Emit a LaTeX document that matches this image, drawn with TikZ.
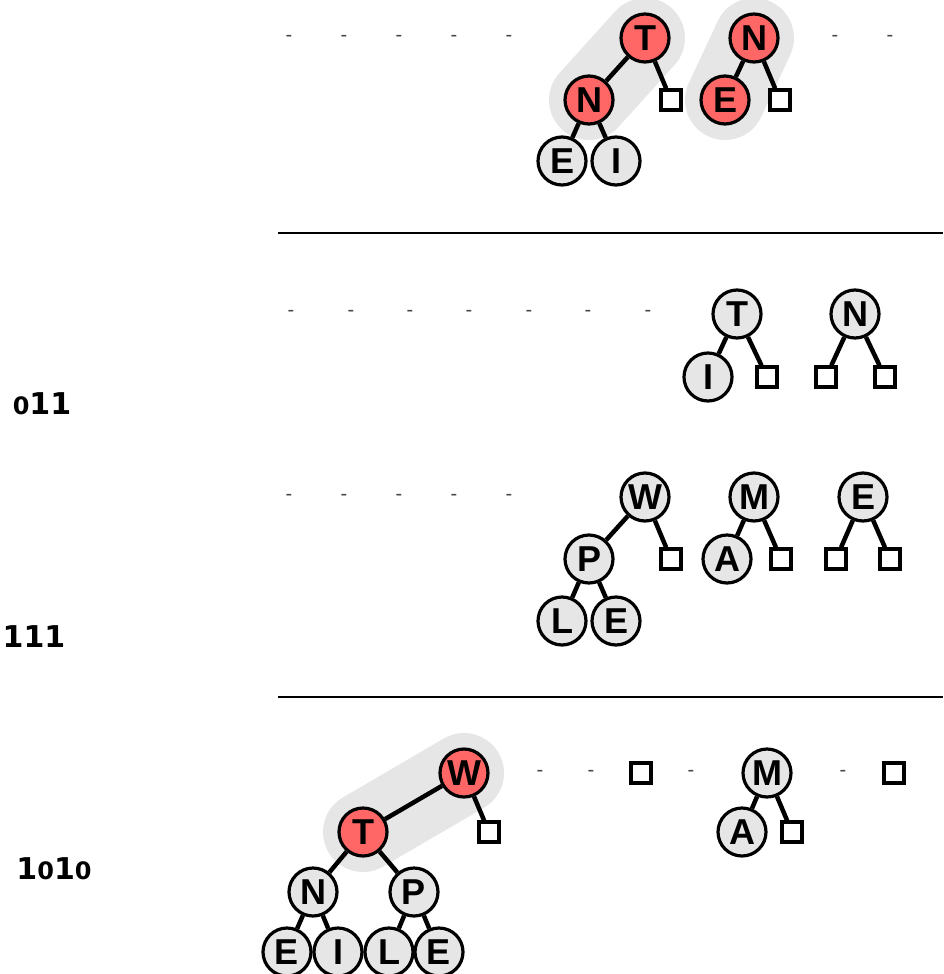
\documentclass[tikz,border=0pt]{standalone}
\usepackage{fontspec}
\setmainfont{Liberation Sans}
\newfontfamily\handfont{DejaVu Sans}
\usetikzlibrary{backgrounds}
\definecolor{redfill}{HTML}{FF6666}
\definecolor{grayfill}{HTML}{E6E6E6}
\definecolor{bandgray}{HTML}{E6E6E6}
\definecolor{dashgray}{HTML}{444444}
\newcommand{\zr}{{\fontsize{24}{24}\selectfont 0}}
\tikzset{
  x=1pt,y=-1pt,
  tn/.style={circle,draw=black,line width=3.2pt,fill=grayfill,minimum size=48pt,inner sep=0pt,
    font=\fontsize{36}{36}\selectfont\bfseries},
  rn/.style={tn,fill=redfill},
  sq/.style={rectangle,draw=black,line width=3.2pt,fill=white,minimum size=20pt,inner sep=0pt},
  dsh/.style={text=dashgray,font=\fontsize{20}{20}\selectfont,inner sep=0pt},
  ed/.style={line width=4.5pt},
  band/.style={line width=80pt,line cap=round,draw=bandgray},
  sep/.style={line width=2pt},
  lbl/.style={font=\handfont\fontsize{30}{30}\selectfont\bfseries,inner sep=0pt}
}
\begin{document}
\begin{tikzpicture}
\useasboundingbox (0,0) rectangle (943,974);
% ---------- section 1 ----------
\foreach \xx [count=\i] in {289,344,399,454,509,835,890}
  \node[dsh] (da\i) at (\xx,38) {-};
\node[rn] (aT) at (645,38) {T};
\node[rn] (aN) at (589,100) {N};
\node[tn] (aE) at (562,161) {E};
\node[tn] (aI) at (616,161) {I};
\node[sq] (aS1) at (671,100) {};
\node[rn] (bN) at (754,38) {N};
\node[rn] (bE) at (725,100) {E};
\node[sq] (bS1) at (780,100) {};
\begin{scope}[on background layer]
  \draw[band] (aT.center) -- (aN.center);
  \draw[band] (bN.center) -- (bE.center);
\end{scope}
\draw[ed] (aT) -- (aN);
\draw[ed] (aT) -- (aS1);
\draw[ed] (aN) -- (aE);
\draw[ed] (aN) -- (aI);
\draw[ed] (bN) -- (bE);
\draw[ed] (bN) -- (bS1);
\coordinate (l1a) at (278,233);
\coordinate (l1b) at (943,233);
\draw[sep] (l1a) -- (l1b);
% ---------- section 2 ----------
\foreach \xx [count=\i] in {291,351,410,469,529,588,648}
  \node[dsh] (db\i) at (\xx,313) {-};
\node[tn] (cT) at (737,314) {T};
\node[tn] (cI) at (708,377) {I};
\node[sq] (cS1) at (767,377) {};
\node[tn] (cN) at (855,314) {N};
\node[sq] (cS2) at (826,377) {};
\node[sq] (cS3) at (885,377) {};
\draw[ed] (cT) -- (cI);
\draw[ed] (cT) -- (cS1);
\draw[ed] (cN) -- (cS2);
\draw[ed] (cN) -- (cS3);
\node[lbl] (lab1) at (42,404) {\zr11};
% ---------- section 3 ----------
\foreach \xx [count=\i] in {289,344,399,454,509}
  \node[dsh] (dc\i) at (\xx,497) {-};
\node[tn] (dW) at (645,497) {W};
\node[tn] (dP) at (589,559) {P};
\node[tn] (dL) at (562,621) {L};
\node[tn] (dE) at (616,621) {E};
\node[sq] (dS1) at (671,559) {};
\node[tn] (eM) at (754,497) {M};
\node[tn] (eA) at (727,559) {A};
\node[sq] (eS1) at (781,559) {};
\node[tn] (fE) at (863,497) {E};
\node[sq] (fS1) at (836,559) {};
\node[sq] (fS2) at (890,559) {};
\draw[ed] (dW) -- (dP);
\draw[ed] (dW) -- (dS1);
\draw[ed] (dP) -- (dL);
\draw[ed] (dP) -- (dE);
\draw[ed] (eM) -- (eA);
\draw[ed] (eM) -- (eS1);
\draw[ed] (fE) -- (fS1);
\draw[ed] (fE) -- (fS2);
\node[lbl] (lab2) at (34,637) {111};
\coordinate (l2a) at (278,697);
\coordinate (l2b) at (943,697);
\draw[sep] (l2a) -- (l2b);
% ---------- section 4 ----------
\node[rn] (gW) at (464,773) {W};
\node[rn] (gT) at (363,832) {T};
\node[tn] (gN) at (313,892) {N};
\node[tn] (gP) at (414,892) {P};
\node[tn] (gE1) at (287,952) {E};
\node[tn] (gI) at (338,952) {I};
\node[tn] (gL) at (389,952) {L};
\node[tn] (gE2) at (439,952) {E};
\node[sq] (gS1) at (489,832) {};
\begin{scope}[on background layer]
  \draw[band] (gW.center) -- (gT.center);
\end{scope}
\draw[ed] (gW) -- (gT);
\draw[ed] (gW) -- (gS1);
\draw[ed] (gT) -- (gN);
\draw[ed] (gT) -- (gP);
\draw[ed] (gN) -- (gE1);
\draw[ed] (gN) -- (gI);
\draw[ed] (gP) -- (gL);
\draw[ed] (gP) -- (gE2);
\foreach \xx [count=\i] in {540,591,691,843}
  \node[dsh] (dd\i) at (\xx,773) {-};
\node[sq] (hS1) at (641,773) {};
\node[sq] (hS2) at (894,773) {};
\node[tn] (hM) at (767,773) {M};
\node[tn] (hA) at (742,832) {A};
\node[sq] (hS3) at (792,832) {};
\draw[ed] (hM) -- (hA);
\draw[ed] (hM) -- (hS3);
\node[lbl] (lab3) at (54,869) {1\zr1\zr};
\end{tikzpicture}
\end{document}
